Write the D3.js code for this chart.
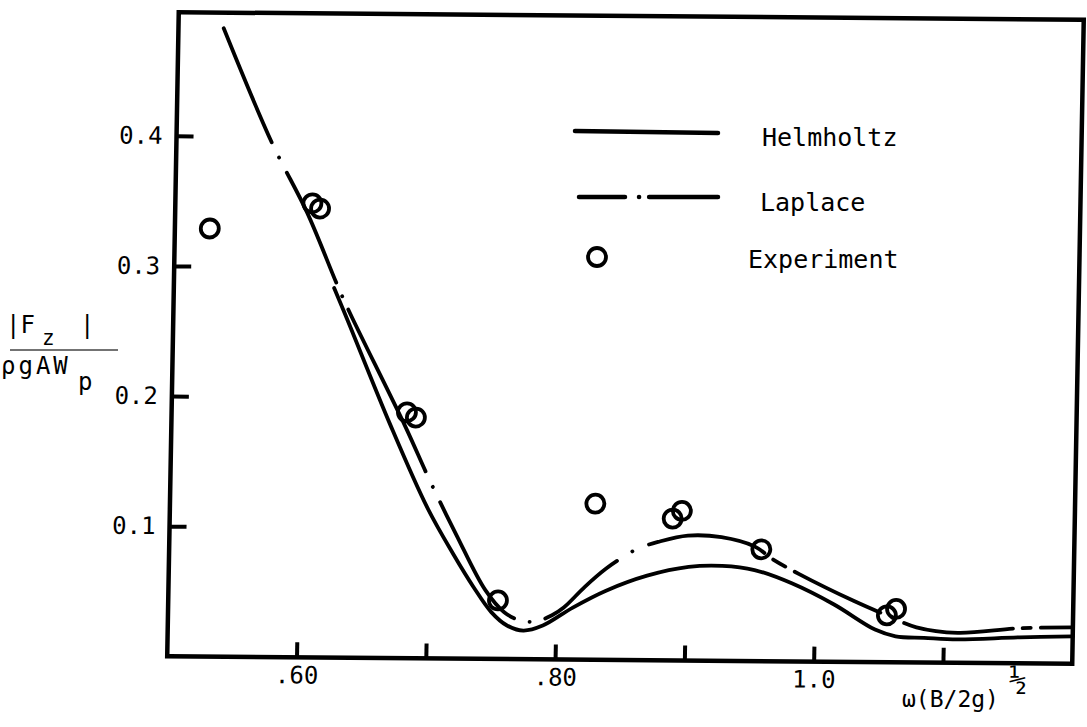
<!DOCTYPE html>
<html>
<head>
<meta charset="utf-8">
<script src="https://cdn.jsdelivr.net/npm/d3@7"></script>
<style>
  html, body { margin: 0; padding: 0; background: #fff; }
  svg { display: block; }
  text { font-family: "DejaVu Sans Mono", monospace; fill: #000; }
</style>
</head>
<body>
<svg id="chart" width="1087" height="727"></svg>
<script>
// |Fz| / (rho g A Wp) against w(B/2g)^1/2
const helmholtzX = [0.624, 0.635, 0.669, 0.699, 0.720, 0.736, 0.750, 0.762, 0.775, 0.790, 0.813, 0.838, 0.870, 0.902, 0.928, 0.953, 0.982, 1.015, 1.047, 1.063, 1.085, 1.111, 1.159, 1.200];
const helmholtzY = [0.284, 0.259, 0.180, 0.116, 0.080, 0.055, 0.036, 0.026, 0.022, 0.026, 0.040, 0.053, 0.065, 0.072, 0.073, 0.070, 0.060, 0.044, 0.025, 0.020, 0.019, 0.018, 0.020, 0.021];

const laplaceX = [0.535, 0.574, 0.602, 0.627, 0.637, 0.681, 0.700, 0.722, 0.745, 0.760, 0.772, 0.784, 0.797, 0.806, 0.822, 0.838, 0.851, 0.863, 0.878, 0.901, 0.927, 0.953, 0.966, 0.988, 1.030, 1.056, 1.079, 1.111, 1.159, 1.200];
const laplaceY = [0.483, 0.395, 0.342, 0.285, 0.264, 0.178, 0.138, 0.095, 0.053, 0.036, 0.030, 0.029, 0.034, 0.040, 0.056, 0.070, 0.079, 0.086, 0.091, 0.096, 0.095, 0.088, 0.079, 0.067, 0.047, 0.036, 0.027, 0.023, 0.027, 0.028];

const experimentX = [0.527, 0.606, 0.612, 0.682, 0.689, 0.755, 0.829, 0.889, 0.896, 0.958, 1.056, 1.063];
const experimentY = [0.329, 0.349, 0.345, 0.189, 0.185, 0.045, 0.120, 0.109, 0.115, 0.086, 0.036, 0.041];

const xTickValues = [0.6, 0.7, 0.8, 0.9, 1.0, 1.1];
const xTickLabels = ['.60', '', '.80', '', '1.0', ''];
const yTickValues = [0.1, 0.2, 0.3, 0.4];

const plotW = 905, plotH = 644;
// the scan is a little skewed, so the whole plot frame is too
const skew = 'matrix(1,0.0083,-0.0179,1,178.75,12.25)';
// hand drawn dash-dot, the dashes are not all the same length
const laplaceDash = '124 17 0.1 17 121 15 0.1 15 180 17 0.1 17 140 16 0.1 16 92 18 0.1 18 120 11 14 11 95 13 0.1 13 110 10 8 10 60';

const svg = d3.select('#chart');
const g = svg.append('g').attr('transform', skew);

const x = d3.scaleLinear().domain([0.5, 1.2]).range([0, plotW]);
const y = d3.scaleLinear().domain([0, 0.495]).range([plotH, 0]);

// frame
g.append('rect')
    .attr('x', x(0.5)).attr('y', y(0.495))
    .attr('width', x(1.2) - x(0.5)).attr('height', y(0) - y(0.495))
    .attr('fill', 'none').attr('stroke', '#000').attr('stroke-width', 4.5);

const xAxis = g.append('g')
    .attr('transform', `translate(0,${plotH})`)
    .call(d3.axisBottom(x)
        .tickValues(xTickValues)
        .tickFormat((d, i) => xTickLabels[i])
        .tickSizeInner(-15).tickSizeOuter(0).tickPadding(9));

const yAxis = g.append('g')
    .call(d3.axisLeft(y)
        .tickValues(yTickValues)
        .tickFormat(d3.format('.1f'))
        .tickSizeInner(-17).tickSizeOuter(0).tickPadding(14));

[xAxis, yAxis].forEach(a => {
  a.select('.domain').remove();
  a.attr('font-family', null).attr('font-size', 24);
  a.selectAll('line').attr('stroke', '#000').attr('stroke-width', 4);
  a.selectAll('text').attr('fill', '#000');
});

const line = d3.line()
    .x(d => x(d[0]))
    .y(d => y(d[1]))
    .curve(d3.curveCatmullRom.alpha(0.5));

g.append('path')
    .datum(d3.zip(laplaceX, laplaceY))
    .attr('fill', 'none')
    .attr('stroke', '#000')
    .attr('stroke-width', 3.8)
    .attr('stroke-linecap', 'round')
    .attr('stroke-dasharray', laplaceDash)
    .attr('d', line);

g.append('path')
    .datum(d3.zip(helmholtzX, helmholtzY))
    .attr('fill', 'none')
    .attr('stroke', '#000')
    .attr('stroke-width', 3.8)
    .attr('stroke-linecap', 'round')
    .attr('d', line);

g.selectAll('circle.exp')
    .data(d3.zip(experimentX, experimentY))
    .join('circle')
    .attr('class', 'exp')
    .attr('cx', d => x(d[0]))
    .attr('cy', d => y(d[1]))
    .attr('r', 9)
    .attr('fill', 'none')
    .attr('stroke', '#000')
    .attr('stroke-width', 3.8);

// legend
const legend = svg.append('g');
legend.append('line')
    .attr('x1', 575).attr('x2', 718).attr('y1', 131).attr('y2', 133)
    .attr('stroke', '#000').attr('stroke-width', 4.5).attr('stroke-linecap', 'round');
legend.append('line')
    .attr('x1', 579).attr('x2', 718).attr('y1', 197).attr('y2', 197)
    .attr('stroke', '#000').attr('stroke-width', 4.5).attr('stroke-linecap', 'round')
    .attr('stroke-dasharray', '46 14 0.1 10 200');
legend.append('circle')
    .attr('cx', 597).attr('cy', 257).attr('r', 9)
    .attr('fill', 'none').attr('stroke', '#000').attr('stroke-width', 3.8);
legend.append('text').attr('x', 762).attr('y', 146).attr('font-size', 25).text('Helmholtz');
legend.append('text').attr('x', 760).attr('y', 211).attr('font-size', 25).text('Laplace');
legend.append('text').attr('x', 748).attr('y', 268).attr('font-size', 25).text('Experiment');

// y label, a fraction
const ylab = svg.append('g');
ylab.append('text').attr('x', 6).attr('y', 333).attr('font-size', 24).text('|F');
ylab.append('text').attr('x', 42).attr('y', 345).attr('font-size', 21).text('z');
ylab.append('text').attr('x', 80).attr('y', 333).attr('font-size', 24).text('|');
ylab.append('line')
    .attr('x1', 10).attr('x2', 118).attr('y1', 350).attr('y2', 350)
    .attr('stroke', '#444').attr('stroke-width', 1.5);
ylab.append('text').attr('x', 1).attr('y', 374).attr('font-size', 24)
    .attr('letter-spacing', 3).text('ρgAW');
ylab.append('text').attr('x', 78).attr('y', 390).attr('font-size', 24).text('p');

// x label
svg.append('text').attr('x', 902).attr('y', 707).attr('font-size', 23).text('ω(B/2g)');
svg.append('text').attr('x', 1009).attr('y', 690).attr('font-size', 30).text('½');
</script>
</body>
</html>
